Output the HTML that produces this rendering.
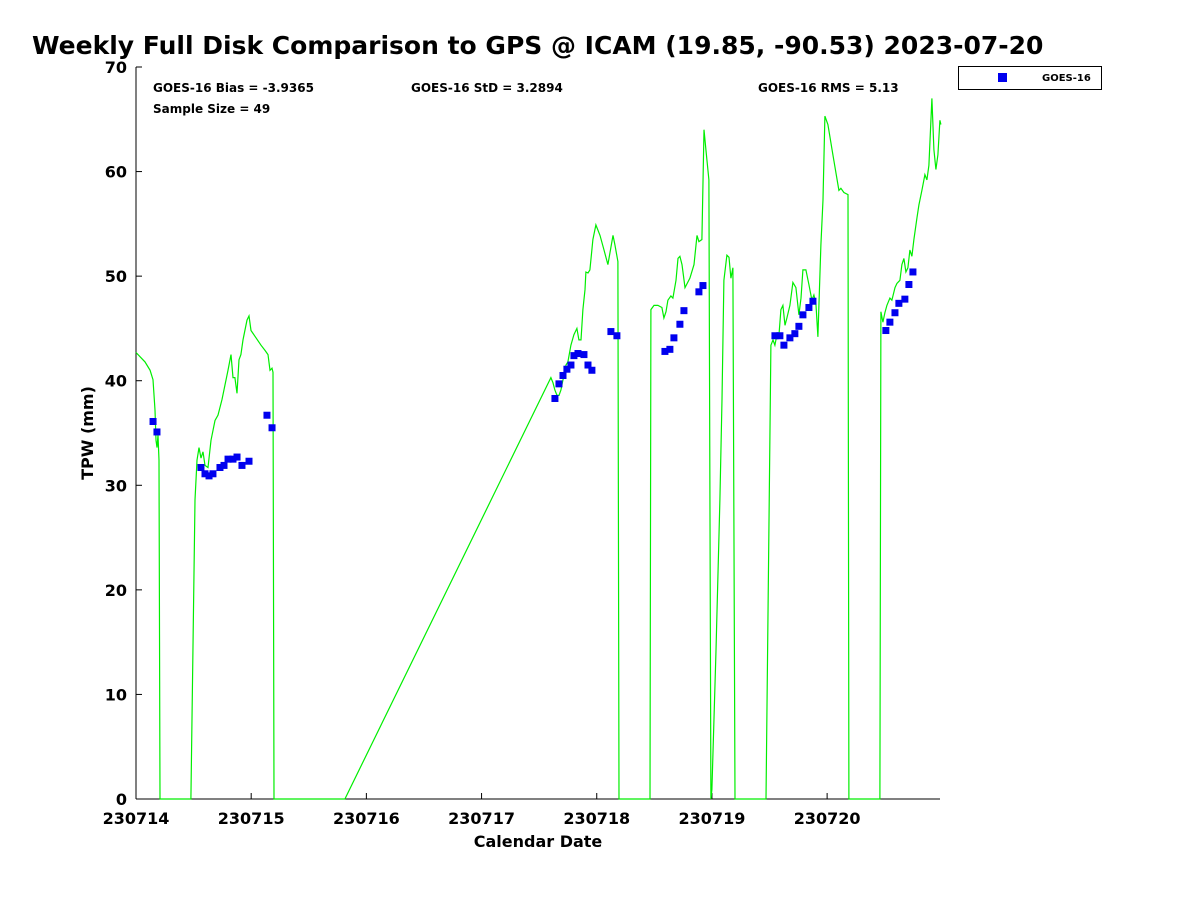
<!DOCTYPE html>
<html><head><meta charset="utf-8"><style>
body{margin:0;background:#fff;font-family:"Liberation Sans","DejaVu Sans",sans-serif}
</style></head><body>
<svg id="chart" width="1200" height="900" xmlns="http://www.w3.org/2000/svg" font-family="DejaVu Sans, Liberation Sans, sans-serif">
<text x="32" y="54" font-size="25" font-weight="bold">Weekly Full Disk Comparison to GPS @ ICAM (19.85, -90.53) 2023-07-20</text>
<text x="153" y="92" font-size="12" font-weight="bold">GOES-16 Bias = -3.9365</text>
<text x="153" y="113" font-size="12" font-weight="bold">Sample Size = 49</text>
<text x="411" y="92" font-size="12" font-weight="bold">GOES-16 StD = 3.2894</text>
<text x="758" y="92" font-size="12" font-weight="bold">GOES-16 RMS = 5.13</text>
<g>
<rect x="958.5" y="66.5" width="143" height="23" fill="#fff" stroke="#000" stroke-width="1"/>
<rect x="998" y="73" width="9" height="9" fill="#0000ee"/>
<text x="1042" y="81" font-size="10" font-weight="bold">GOES-16</text>
</g>
<g id="axes"></g>
<g id="marks"></g>
<text x="538" y="847" font-size="16" font-weight="bold" text-anchor="middle">Calendar Date</text>
<text transform="translate(93,433) rotate(-90)" font-size="16" font-weight="bold" text-anchor="middle">TPW (mm)</text>
</svg>
<script>
const xTickLabels=["230714","230715","230716","230717","230718","230719","230720"];
const yTickValues=[0,10,20,30,40,50,60,70];
const gpsDays=[0,0.078,0.122,0.148,0.165,0.174,0.182,0.191,0.2,0.208,0.477,0.512,0.53,0.547,0.564,0.582,0.599,0.625,0.651,0.686,0.712,0.747,0.773,0.799,0.825,0.842,0.859,0.877,0.894,0.911,0.929,0.964,0.981,0.998,1.042,1.085,1.12,1.146,1.163,1.181,1.189,1.198,1.814,3.602,3.62,3.637,3.655,3.672,3.689,3.707,3.733,3.75,3.776,3.802,3.828,3.845,3.863,3.88,3.898,3.906,3.924,3.941,3.967,3.993,4.028,4.063,4.097,4.141,4.158,4.184,4.193,4.462,4.47,4.497,4.531,4.566,4.583,4.601,4.618,4.644,4.661,4.688,4.705,4.722,4.74,4.766,4.809,4.844,4.87,4.887,4.913,4.931,4.948,4.974,4.991,5.0,5.035,5.069,5.087,5.104,5.13,5.148,5.165,5.182,5.2,5.469,5.512,5.53,5.547,5.564,5.582,5.599,5.616,5.634,5.651,5.677,5.703,5.729,5.755,5.773,5.79,5.816,5.842,5.868,5.885,5.903,5.92,5.946,5.964,5.981,6.007,6.05,6.102,6.12,6.146,6.181,6.189,6.458,6.467,6.484,6.502,6.519,6.545,6.562,6.589,6.606,6.632,6.649,6.667,6.684,6.701,6.719,6.736,6.753,6.78,6.797,6.823,6.849,6.866,6.884,6.91,6.927,6.944,6.962,6.979,6.988];
const gpsValues=[42.7,41.8,41.0,40.1,37.2,34.3,33.6,34.8,32.4,0,0,28.6,32.4,33.6,32.6,33.2,31.9,31.7,34.3,36.2,36.7,38.2,39.6,41.0,42.5,40.3,40.3,38.8,42.0,42.5,43.9,45.8,46.2,44.8,44.1,43.4,42.9,42.5,41.0,41.2,40.8,0,0,40.3,39.8,39.1,38.6,38.6,39.1,40.1,41.5,41.8,43.4,44.4,45.0,43.9,43.9,46.8,48.7,50.4,50.3,50.6,53.5,54.9,53.9,52.5,51.1,53.9,53.0,51.4,0,0,46.8,47.2,47.2,47.0,46.0,46.6,47.7,48.1,47.9,49.6,51.7,51.9,51.1,48.9,49.8,51.1,53.9,53.3,53.5,64.0,62.1,59.2,0,0.9,14.2,28.6,38.2,49.6,52.0,51.8,49.8,50.8,0,0,43.4,43.9,43.4,44.4,44.4,46.8,47.2,45.3,46.0,47.2,49.4,48.9,46.3,47.9,50.6,50.6,49.2,47.7,48.2,47.4,44.2,53.0,57.3,65.3,64.5,61.6,58.2,58.4,58.0,57.8,0,0,46.6,45.6,46.5,47.2,47.9,47.7,48.9,49.3,49.6,51.1,51.7,50.4,50.8,52.5,51.9,53.5,55.6,56.8,58.2,59.7,59.2,60.6,67.0,62.1,60.2,61.6,64.9,64.5];
const goesDays=[0.148,0.182,0.564,0.599,0.634,0.668,0.729,0.764,0.799,0.842,0.877,0.92,0.981,1.137,1.181,3.637,3.672,3.707,3.741,3.776,3.802,3.837,3.889,3.924,3.958,4.123,4.175,4.592,4.635,4.67,4.722,4.757,4.887,4.922,5.547,5.59,5.625,5.677,5.72,5.755,5.79,5.842,5.877,6.51,6.545,6.589,6.623,6.675,6.71,6.745];
const goesValues=[36.1,35.1,31.7,31.1,30.9,31.1,31.7,31.9,32.5,32.5,32.7,31.9,32.3,36.7,35.5,38.3,39.7,40.5,41.1,41.5,42.4,42.6,42.5,41.5,41.0,44.7,44.3,42.8,43.0,44.1,45.4,46.7,48.5,49.1,44.3,44.3,43.4,44.1,44.5,45.2,46.3,47.0,47.6,44.8,45.6,46.5,47.4,47.8,49.2,50.4];
const L=136,R=940,T=67,B=799,XMAX=6.98,YMAX=70;
const xs=d=>L+d*(R-L)/XMAX, ys=v=>B-v*(B-T)/YMAX;
const NS="http://www.w3.org/2000/svg";
const axes=document.getElementById('axes'),marks=document.getElementById('marks');
function mk(tag,attrs,parent){const e=document.createElementNS(NS,tag);for(const k in attrs)e.setAttribute(k,attrs[k]);parent.appendChild(e);return e;}
const yl=mk('line',{x1:L,y1:T,x2:L,y2:B,stroke:'#000','stroke-width':1},axes);


const xl=mk('line',{x1:L,y1:B,x2:R,y2:B,stroke:'#000','stroke-width':1},axes);


yTickValues.forEach(v=>{
 const t=mk('line',{x1:L,y1:ys(v),x2:L+6,y2:ys(v),stroke:'#000'},axes);
 
 
 const tx=mk('text',{x:L-9,y:ys(v)+6,'font-size':16,'font-weight':'bold','text-anchor':'end'},axes);
 tx.textContent=v;
 
 
});
xTickLabels.forEach((lab,i)=>{
 const t=mk('line',{x1:xs(i),y1:B,x2:xs(i),y2:B-6,stroke:'#000'},axes);
 
 
 const tx=mk('text',{x:xs(i),y:B+25,'font-size':16,'font-weight':'bold','text-anchor':'middle'},axes);
 tx.textContent=lab;
 
 
});
const pts=gpsDays.map((d,i)=>xs(d).toFixed(1)+','+ys(gpsValues[i]).toFixed(1)).join(' ');
const pl=mk('polyline',{points:pts,fill:'none',stroke:'#00ee00','stroke-width':1.2},marks);


goesDays.forEach((d,i)=>{
 const r=mk('rect',{x:xs(d)-3.5,y:ys(goesValues[i])-3.5,width:7,height:7,fill:'#0000ee'},marks);
 
 
});
</script>
</body></html>
